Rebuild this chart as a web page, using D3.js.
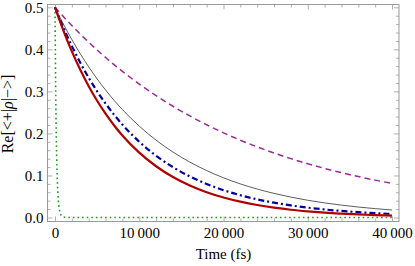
<!DOCTYPE html>
<html>
<head>
<meta charset="utf-8">
<script src="https://cdn.jsdelivr.net/npm/d3@7"></script>
<style>
  html, body { margin: 0; padding: 0; background: #fff; }
  svg text { font-family: "Liberation Serif", "DejaVu Serif", serif; fill: #000; }
</style>
</head>
<body>
<div id="chart"></div>
<script>
"use strict";

// sample times (fs), shared by every curve
var times = [0, 100, 200, 300, 400, 600, 800, 1000, 1500, 2000, 3000, 4000, 5000, 6000, 7000, 8000,
  10000, 12000, 14000, 16000, 18000, 20000, 22000, 24000, 26000, 28000, 30000, 32000, 34000, 36000, 38000, 40000];

// Re[<+|rho|->]
var purpleDashed = [0.5, 0.4977, 0.4955, 0.4932, 0.4910, 0.4865, 0.4821, 0.4778, 0.4671, 0.4566, 0.4362, 0.4169,
  0.3983, 0.3806, 0.3637, 0.3476, 0.3174, 0.2898, 0.2646, 0.2416, 0.2206, 0.2014, 0.1839, 0.1680, 0.1534,
  0.1400, 0.1279, 0.1168, 0.1066, 0.0973, 0.0889, 0.0812];
var blackThin = [0.5, 0.4959, 0.4917, 0.4877, 0.4836, 0.4756, 0.4678, 0.4600, 0.4412, 0.4232, 0.3894, 0.3583,
  0.3296, 0.3033, 0.2790, 0.2567, 0.2173, 0.1839, 0.1557, 0.1318, 0.1116, 0.0944, 0.0799, 0.0677, 0.0573,
  0.0485, 0.0410, 0.0347, 0.0294, 0.0249, 0.0211, 0.0178];
var blueDotDash = [0.5, 0.4949, 0.4899, 0.4849, 0.4800, 0.4703, 0.4608, 0.4515, 0.4290, 0.4077, 0.3682, 0.3324,
  0.3002, 0.2711, 0.2448, 0.2210, 0.1802, 0.1469, 0.1198, 0.0977, 0.0797, 0.0650, 0.0530, 0.0432, 0.0352,
  0.0287, 0.0234, 0.0191, 0.0156, 0.0127, 0.0103, 0.0084];
var redSolid = [0.5, 0.4942, 0.4884, 0.4827, 0.4770, 0.4659, 0.4551, 0.4445, 0.4191, 0.3952, 0.3513, 0.3123,
  0.2777, 0.2468, 0.2194, 0.1951, 0.1542, 0.1219, 0.0963, 0.0761, 0.0602, 0.0475, 0.0376, 0.0297, 0.0235,
  0.0185, 0.0147, 0.0116, 0.0092, 0.0072, 0.0057, 0.0045];
var greenDotted = [0.5, 0.2676, 0.1433, 0.0767, 0.0410, 0.0118, 0.0034, 0.0010, 0.0002, 0, 0, 0,
  0, 0, 0, 0, 0, 0, 0, 0, 0, 0, 0, 0, 0,
  0, 0, 0, 0, 0, 0, 0];

var xMajor = [0, 10000, 20000, 30000, 40000];
var yMajor = [0, 0.1, 0.2, 0.3, 0.4, 0.5];

var width = 415, height = 266;
// frame box
var frameLeft = 47.5, frameRight = 399, frameTop = 4.5, frameBottom = 221.5;

// 0 -> 55px, 40000 -> 392px ; 0 -> 217.5px, 0.5 -> 7.3px
var x = d3.scaleLinear().domain([0, 40000]).range([55, 392]);
var y = d3.scaleLinear().domain([0, 0.5]).range([217.5, 7.3]);

var xMinor = d3.range(0, 40001, 2000).filter(function (d) { return d % 10000 !== 0; });
var yMinor = d3.range(0, 51, 2).map(function (d) { return d / 100; })
  .filter(function (d) { return Math.round(d * 100) % 10 !== 0; });

var svg = d3.select("#chart").append("svg")
  .attr("width", width)
  .attr("height", height);

svg.append("defs").append("clipPath").attr("id", "plotClip")
  .append("rect")
  .attr("x", frameLeft).attr("y", frameTop)
  .attr("width", frameRight - frameLeft).attr("height", frameBottom - frameTop);

function fmtX(d) {
  if (d === 0) return "0";
  return d3.format(",")(d).replace(",", "\u2009");
}

function styleAxis(g) {
  g.select(".domain").remove();
  g.selectAll(".tick line").attr("stroke", "#9a9a9a").attr("stroke-width", 0.8);
  g.selectAll(".tick text").style("font-size", "15px");
}

// bottom
svg.append("g").attr("transform", "translate(0," + frameBottom + ")")
  .call(d3.axisBottom(x).tickValues(xMajor).tickSizeInner(-5).tickSizeOuter(0).tickPadding(6).tickFormat(fmtX))
  .call(styleAxis);
svg.append("g").attr("transform", "translate(0," + frameBottom + ")")
  .call(d3.axisBottom(x).tickValues(xMinor).tickSizeInner(-3).tickSizeOuter(0).tickFormat(""))
  .call(styleAxis);
// top
svg.append("g").attr("transform", "translate(0," + frameTop + ")")
  .call(d3.axisTop(x).tickValues(xMajor).tickSizeInner(-5).tickSizeOuter(0).tickFormat(""))
  .call(styleAxis);
svg.append("g").attr("transform", "translate(0," + frameTop + ")")
  .call(d3.axisTop(x).tickValues(xMinor).tickSizeInner(-3).tickSizeOuter(0).tickFormat(""))
  .call(styleAxis);
// left
svg.append("g").attr("transform", "translate(" + frameLeft + ",0)")
  .call(d3.axisLeft(y).tickValues(yMajor).tickSizeInner(-5).tickSizeOuter(0).tickPadding(4).tickFormat(d3.format(".1f")))
  .call(styleAxis);
svg.append("g").attr("transform", "translate(" + frameLeft + ",0)")
  .call(d3.axisLeft(y).tickValues(yMinor).tickSizeInner(-3).tickSizeOuter(0).tickFormat(""))
  .call(styleAxis);
// right
svg.append("g").attr("transform", "translate(" + frameRight + ",0)")
  .call(d3.axisRight(y).tickValues(yMajor).tickSizeInner(-5).tickSizeOuter(0).tickFormat(""))
  .call(styleAxis);
svg.append("g").attr("transform", "translate(" + frameRight + ",0)")
  .call(d3.axisRight(y).tickValues(yMinor).tickSizeInner(-3).tickSizeOuter(0).tickFormat(""))
  .call(styleAxis);

// frame
svg.append("rect")
  .attr("x", frameLeft).attr("y", frameTop)
  .attr("width", frameRight - frameLeft).attr("height", frameBottom - frameTop)
  .attr("fill", "none")
  .attr("stroke", "#9a9a9a")
  .attr("stroke-width", 1);

var line = d3.line()
  .x(function (d) { return x(d[0]); })
  .y(function (d) { return y(d[1]); })
  .curve(d3.curveMonotoneX);

var series = [
  { values: greenDotted, color: "#1f9a1f", width: 1.6, dash: "1.6,3" },
  { values: purpleDashed, color: "#9b2b9b", width: 1.5, dash: "6,4" },
  { values: blackThin, color: "#333333", width: 0.8, dash: null },
  { values: blueDotDash, color: "#00009e", width: 2.2, dash: "6,3,2,3" },
  { values: redSolid, color: "#b00000", width: 2.2, dash: null }
];

var plot = svg.append("g").attr("clip-path", "url(#plotClip)");
series.forEach(function (s) {
  plot.append("path")
    .datum(times.map(function (t, i) { return [t, s.values[i]]; }))
    .attr("d", line)
    .attr("fill", "none")
    .attr("stroke", s.color)
    .attr("stroke-width", s.width)
    .attr("stroke-dasharray", s.dash);
});

// axis titles
svg.append("text")
  .attr("x", (x(0) + x(40000)) / 2)
  .attr("y", 259)
  .attr("text-anchor", "middle")
  .style("font-size", "15px")
  .text("Time (fs)");

var yTitle = svg.append("text")
  .attr("transform", "translate(13," + 114 + ") rotate(-90)")
  .attr("text-anchor", "middle")
  .style("font-size", "16px");
yTitle.append("tspan").text("Re[<+|");
yTitle.append("tspan").style("font-style", "italic").text("\u03c1");
yTitle.append("tspan").text("|\u2212>]");
</script>
</body>
</html>
